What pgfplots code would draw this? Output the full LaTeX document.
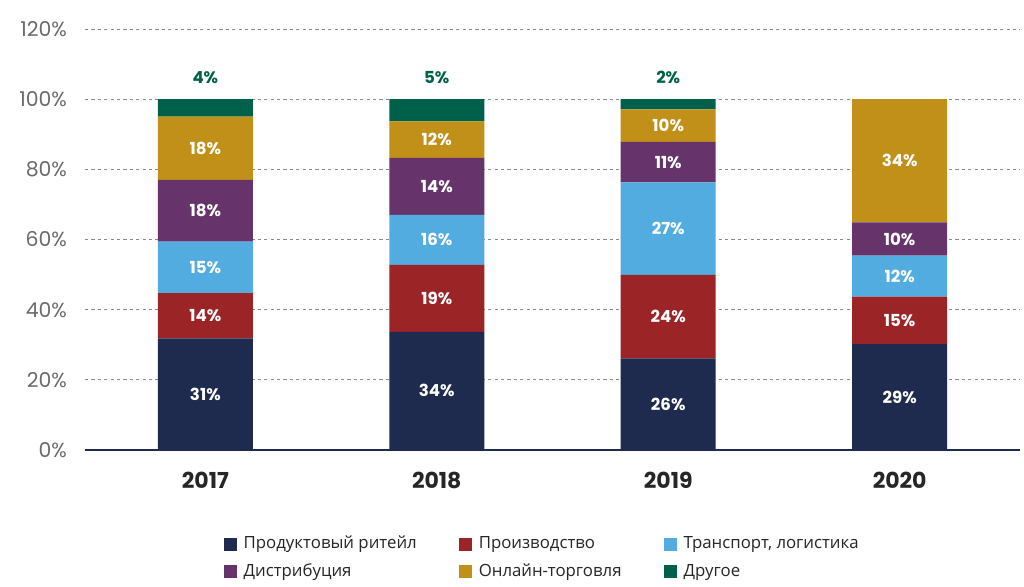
\documentclass[border=0pt]{standalone}
\usepackage{fontspec}
\setmainfont{Open Sans}
\newfontfamily\numfont{Poppins}
\usepackage{pgfplots}
\pgfplotsset{compat=1.18}
\usetikzlibrary{calc}

\definecolor{cRetail}{HTML}{1F2A4F}
\definecolor{cProd}{HTML}{9B2427}
\definecolor{cTrans}{HTML}{52ACE0}
\definecolor{cDistr}{HTML}{66346B}
\definecolor{cOnline}{HTML}{C09018}
\definecolor{cOther}{HTML}{00614A}
\definecolor{cGrid}{HTML}{8A8A8A}
\definecolor{cTick}{HTML}{6A6A6A}

% segment heights
\pgfplotstableread{
x a b c d e f
0 31.8 12.9 14.7 17.6 18.0 5.0
1 33.7 19.1 14.2 16.3 10.4 6.3
2 26.1 23.8 26.4 11.5 9.3 2.9
3 30.2 13.5 11.7 9.5 35.1 0
}\shares

% printed labels inside the segments
\pgfplotstableread{
x y lab
0 15.9 31
0 38.25 14
0 52.05 15
0 68.2 18
0 86.0 18
1 16.85 34
1 43.25 19
1 59.9 16
1 75.15 14
1 88.5 12
2 13.05 26
2 38.0 24
2 63.1 27
2 82.05 11
2 92.45 10
3 15.1 29
3 36.95 15
3 49.55 12
3 60.15 10
3 82.45 34
}\labwhite

% labels above the bars (Другое)
\pgfplotstableread{
x y lab
0 106.1 4
1 106.1 5
2 106.1 2
}\labgreen

\begin{document}
\begin{tikzpicture}
\begin{axis}[
    name=ax,
    ybar stacked,
    bar width=47.5pt,
    width=467.5pt, height=210.5pt,
    scale only axis,
    xmin=-0.52, xmax=3.52,
    ymin=0, ymax=120,
    ytick={0,20,...,120},
    /pgf/number format/assume math mode=true,
    yticklabel={\pgfmathprintnumber{\tick}\%},
    yticklabel style={font=\numfont\fontsize{10.2}{12}\selectfont, text=cTick, xshift=-5.5pt},
    xtick={0,1,2,3},
    xticklabels={2017,2018,2019,2020},
    xticklabel style={font=\numfont\bfseries\fontsize{11}{13}\selectfont, text=black!85, yshift=-7.5pt},
    axis x line*=bottom,
    axis y line*=left,
    y axis line style={draw=none},
    x axis line style={cRetail, line width=1pt, -},
    major tick length=0pt,
    ymajorgrids,
    grid style={cGrid, line width=0.5pt, dash pattern=on 1.6pt off 1.6pt},
    legend style={
        at={(0.49,-0.185)}, anchor=north,
        legend columns=3, draw=none,
        font=\fontsize{8.4}{10}\selectfont, text=black!85,
        /tikz/every even column/.append style={column sep=19pt},
        /tikz/every odd column/.append style={column sep=1.5pt},
        row sep=2pt,
    },
    legend cell align=left,
    legend image code/.code={\fill[#1] (0pt,-3.25pt) rectangle (6.5pt,3.25pt);},
]
\addplot[fill=cRetail, draw=none] table[x=x, y=a] {\shares};
\addplot[fill=cProd, draw=none] table[x=x, y=b] {\shares};
\addplot[fill=cTrans, draw=none] table[x=x, y=c] {\shares};
\addplot[fill=cDistr, draw=none] table[x=x, y=d] {\shares};
\addplot[fill=cOnline, draw=none] table[x=x, y=e] {\shares};
\addplot[fill=cOther, draw=none] table[x=x, y=f] {\shares};
\legend{Продуктовый ритейл, Производство, {Транспорт, логистика}, Дистрибуция, Онлайн-торговля, Другое}
\end{axis}

\begin{axis}[
    at={(ax.south west)}, anchor=south west,
    width=467.5pt, height=210.5pt,
    scale only axis,
    xmin=-0.52, xmax=3.52,
    ymin=0, ymax=120,
    hide axis, clip=false,
]
\addplot[draw=none, mark=none, nodes near coords={\pgfplotspointmeta\%},
    point meta=explicit symbolic,
    every node near coord/.append style={anchor=center, text=white,
        font=\numfont\bfseries\fontsize{8.3}{10}\selectfont}]
    table[x=x, y=y, meta=lab] {\labwhite};
\addplot[draw=none, mark=none, nodes near coords={\pgfplotspointmeta\%},
    point meta=explicit symbolic,
    every node near coord/.append style={anchor=center, text=cOther,
        font=\numfont\bfseries\fontsize{8.3}{10}\selectfont}]
    table[x=x, y=y, meta=lab] {\labgreen};
\end{axis}

\pgfresetboundingbox
\path[use as bounding box] ($(ax.south west)+(-42.5pt,-68pt)$) rectangle ($(ax.north east)+(2pt,14.5pt)$);
\end{tikzpicture}
\end{document}
